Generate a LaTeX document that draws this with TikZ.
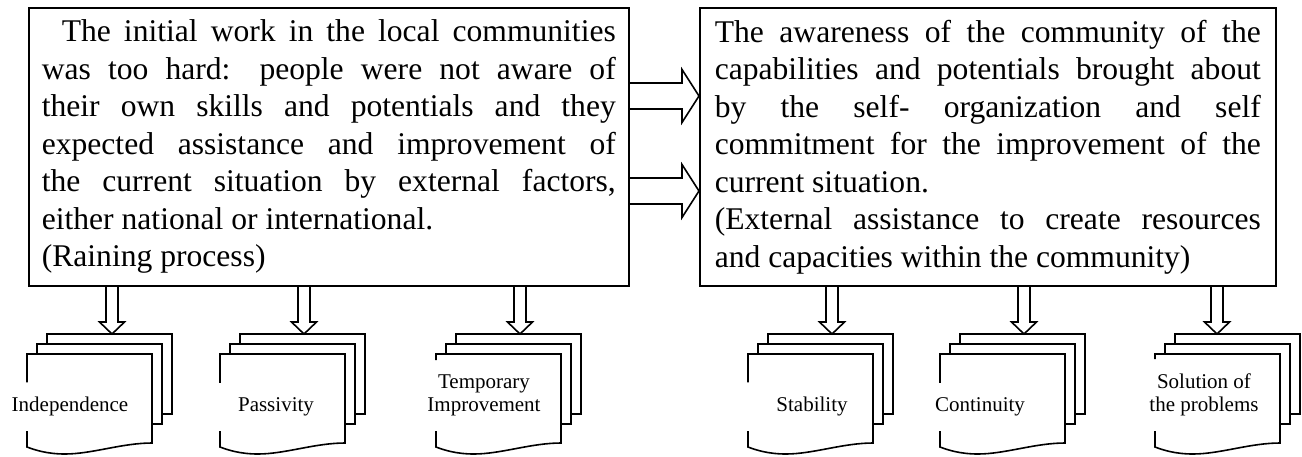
\documentclass[tikz,border=0pt]{standalone}
\usepackage{fontspec}
\setmainfont{Liberation Serif}
\usetikzlibrary{calc}
\hbadness=10000

\begin{document}
\begin{tikzpicture} [
            x=0.5pt, y=-0.5pt, line width=0.8pt,
            box/.style={draw, anchor=north west, inner ysep=0pt,
                font=\fontsize{15.8pt}{18.75pt}\selectfont},
            doclabel/.style={anchor=south, align=center, inner sep=7pt,
                font=\fontsize{10.5pt}{11.5pt}\selectfont},
            fat right/.style={to path={let \p1=(\tikztostart), \p2=(\tikztotarget) in
                (\x1,\y1+6.5pt) -- (\x2-8.5pt,\y1+6.5pt) -- (\x2-8.5pt,\y1+13.25pt) -- (\x2,\y1)
                -- (\x2-8.5pt,\y1-13.25pt) -- (\x2-8.5pt,\y1-6.5pt) -- (\x1,\y1-6.5pt)}},
            fat down/.style={to path={let \p1=(\tikztostart), \p2=(\tikztotarget) in
                (\x1-3pt,\y1) -- (\x1-3pt,\y2+6pt) -- (\x1-6.25pt,\y2+6pt) -- (\x1,\y2)
                -- (\x1+6.25pt,\y2+6pt) -- (\x1+3pt,\y2+6pt) -- (\x1+3pt,\y1)}},
            pics/docstack/.style 2 args={code={
                \draw[fill=white] (20,-20) rectangle (145,60);
                \draw[fill=white] (10,-10) rectangle (135,70);
                \fill[white] (0,0) -- (125,0) -- (125,89) .. controls (95,89) and (65,100) .. (38,100)
                    .. controls (20,100) and (8,96) .. (0,93) -- cycle;
                \node[doclabel] (-label) at (#1,77) {#2};
                \coordinate (-top) at (82,-20);
                \draw (-label.north -| 0,0) -- (0,0) -- (125,0) -- (125,89) .. controls (95,89) and (65,100) .. (38,100)
                    .. controls (20,100) and (8,96) .. (0,93) -- (0,77);
            }}
        ]
        \useasboundingbox (0,0) rectangle (1302,456);
        \node[box, inner xsep=6.5pt] (lbox) at (28,7) {\parbox[c][139pt][t]{287pt}{\vspace*{6pt}%
            \hspace*{10pt}The initial work in the local communities\linebreak
            was too hard: people were not aware of\linebreak
            their own skills and potentials and they\linebreak
            expected assistance and improvement of\linebreak
            the current situation by external factors,\linebreak
            either national or international.\\
            (Raining process)}};
        \node[box, inner xsep=7.5pt] (rbox) at (699,7) {\parbox[c][139pt][t]{273pt}{\vspace*{6pt}%
            The awareness of the community of the\linebreak
            capabilities and potentials brought about\linebreak
            by the self- organization and self\linebreak
            commitment for the improvement of the\linebreak
            current situation.\\
            (External assistance to create resources\linebreak
            and capacities within the community)}};
        \draw[fat right] (lbox.east |- 0,96) to (rbox.west |- 0,96);
        \draw[fat right] (lbox.east |- 0,191) to (rbox.west |- 0,191);

        \pic (dI) at (27,354) {docstack={43}{Independence}};
        \pic (dP) at (220,354) {docstack={56}{Passivity}};
        \pic (dT) at (436,354) {docstack={48}{Temporary\\Improvement}};
        \pic (dS) at (748,354) {docstack={64}{Stability}};
        \pic (dC) at (940,354) {docstack={40}{Continuity}};
        \pic (dR) at (1155,354) {docstack={49}{Solution of\\the problems}};

        \draw[fat down] (lbox.south -| 112,0) to (dI-top -| 112,0);
        \draw[fat down] (lbox.south -| 304,0) to (dP-top -| 304,0);
        \draw[fat down] (lbox.south -| 520,0) to (dT-top -| 520,0);
        \draw[fat down] (rbox.south -| 832,0) to (dS-top -| 832,0);
        \draw[fat down] (rbox.south -| 1024,0) to (dC-top -| 1024,0);
        \draw[fat down] (rbox.south -| 1217,0) to (dR-top -| 1217,0);
    \end{tikzpicture}
\end{document}
